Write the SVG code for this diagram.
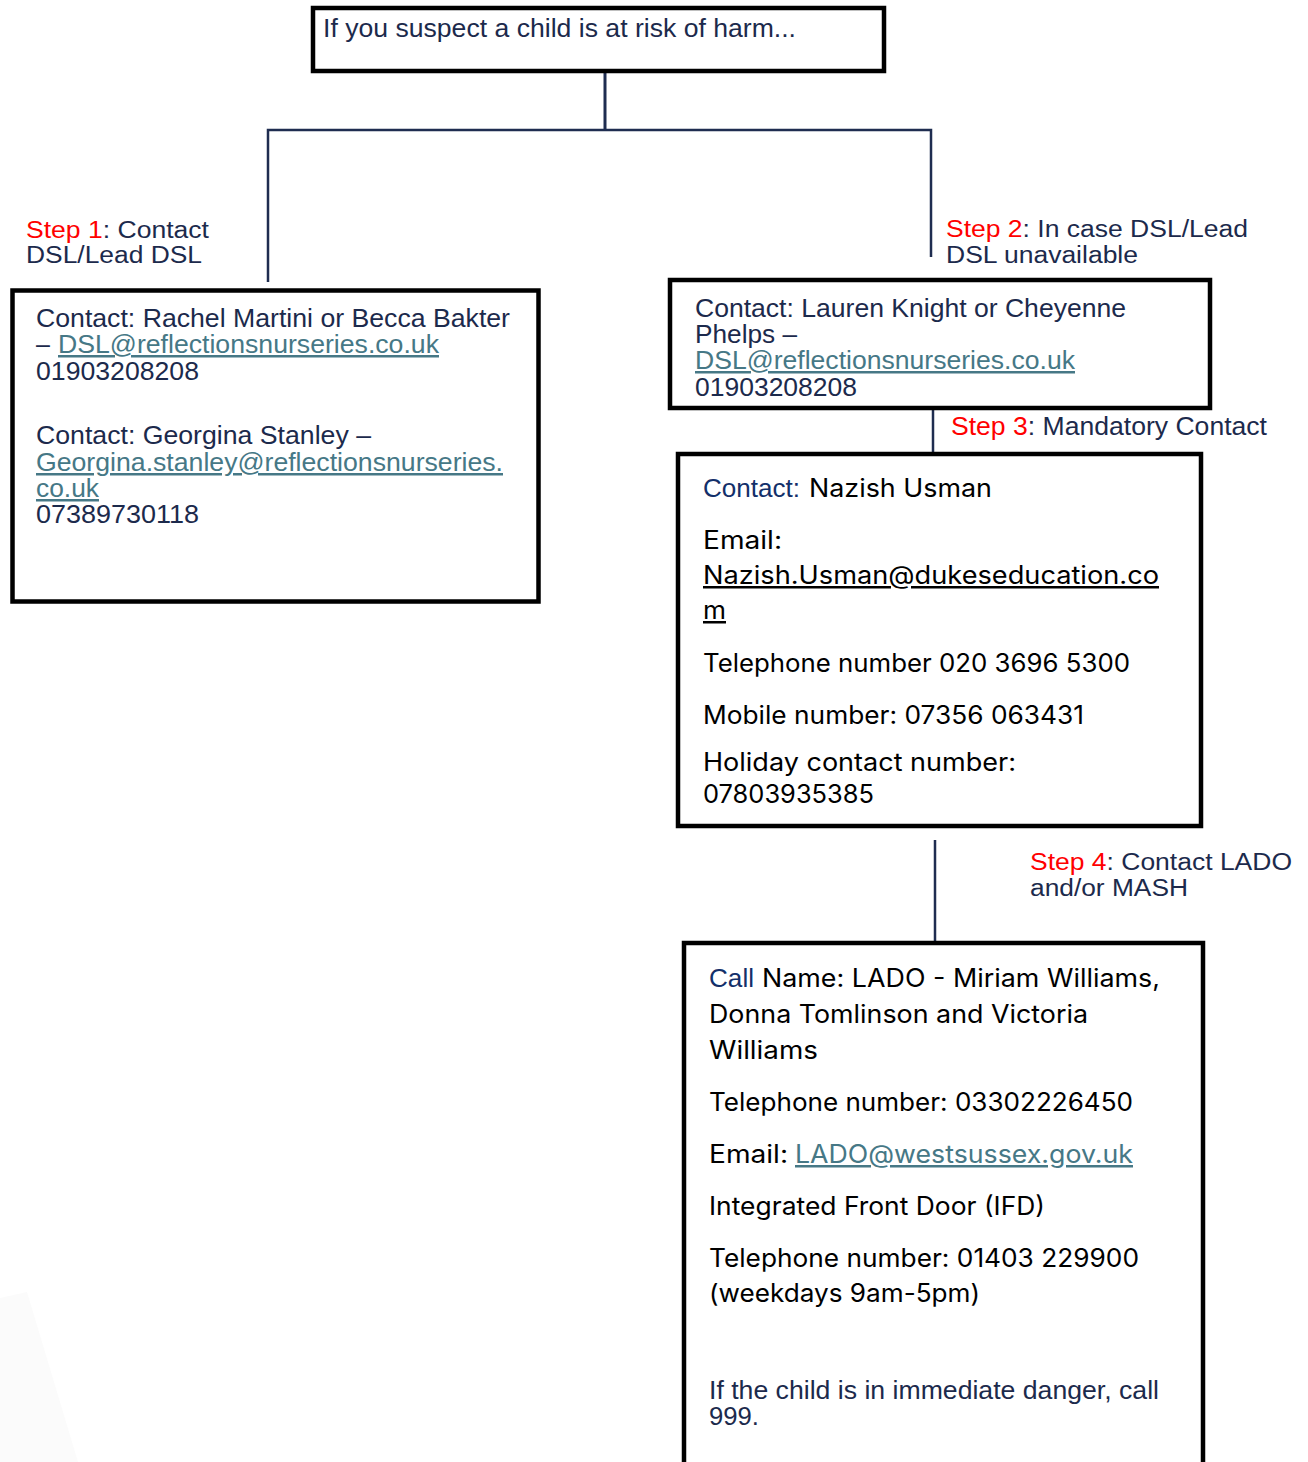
<svg xmlns="http://www.w3.org/2000/svg" width="1308" height="1462" viewBox="0 0 1308 1462">
<style>
.box{fill:#fff;stroke:#000;stroke-width:4.5}
.ln{fill:none;stroke:#1f2d50;stroke-width:2.5}
.a{font-family:"Liberation Sans",Arial,sans-serif;font-size:25px;fill:#1c2a4c}
.s{font-size:23.5px}
.b{font-family:Inter,"Noto Sans",sans-serif;font-size:25px;fill:#000}
.red{fill:#ff0000}
.lk{fill:#467886;text-decoration:underline}
.nv{fill:#13306a}
.u{text-decoration:underline}
</style>
<rect width="1308" height="1462" fill="#fff"/>
<polygon points="0,1298 27,1292 78,1462 0,1462" fill="#fbfbfb"/>
<g id="connectors">
<path class="ln" d="M605,73 V130" style="stroke-width:3"/>
<path class="ln" d="M268,282 V130 H931 V257"/>
<path class="ln" d="M933,410 V453"/>
<path class="ln" d="M935,840 V943 H917 V948"/>
</g>
<g id="start">
<rect class="box" x="313" y="8" width="571" height="63"/>
<text class="a" x="323" y="37" textLength="473" lengthAdjust="spacingAndGlyphs">If you suspect a child is at risk of harm...</text>
</g>
<g id="step1-label">
<text class="a s" x="26" y="238" textLength="183" lengthAdjust="spacingAndGlyphs"><tspan class="red">Step 1</tspan>: Contact</text>
<text class="a s" x="26" y="263" textLength="176" lengthAdjust="spacingAndGlyphs">DSL/Lead DSL</text>
</g>
<g id="step2-label">
<text class="a s" x="946" y="237" textLength="302" lengthAdjust="spacingAndGlyphs"><tspan class="red">Step 2</tspan>: In case DSL/Lead</text>
<text class="a s" x="946" y="263" textLength="192" lengthAdjust="spacingAndGlyphs">DSL unavailable</text>
</g>
<g id="step3-label">
<text class="a" x="951" y="435" textLength="316" lengthAdjust="spacingAndGlyphs"><tspan class="red">Step 3</tspan>: Mandatory Contact</text>
</g>
<g id="step4-label">
<text class="a s" x="1030" y="870" textLength="262" lengthAdjust="spacingAndGlyphs"><tspan class="red">Step 4</tspan>: Contact LADO</text>
<text class="a s" x="1030" y="896" textLength="158" lengthAdjust="spacingAndGlyphs">and/or MASH</text>
</g>
<g id="dsl-box">
<rect class="box" x="12.5" y="290.5" width="526" height="311"/>
<text class="a" x="36" y="327" textLength="474" lengthAdjust="spacingAndGlyphs">Contact: Rachel Martini or Becca Bakter</text>
<text class="a" x="36" y="353">–</text>
<text class="a lk" x="58" y="353" textLength="381" lengthAdjust="spacingAndGlyphs">DSL@reflectionsnurseries.co.uk</text>
<text class="a" x="36" y="380" textLength="163" lengthAdjust="spacingAndGlyphs">01903208208</text>
<text class="a" x="36" y="444" textLength="335" lengthAdjust="spacingAndGlyphs">Contact: Georgina Stanley –</text>
<text class="a lk" x="36" y="471" textLength="467" lengthAdjust="spacingAndGlyphs">Georgina.stanley@reflectionsnurseries.</text>
<text class="a lk" x="36" y="497" textLength="63" lengthAdjust="spacingAndGlyphs">co.uk</text>
<text class="a" x="36" y="523" textLength="163" lengthAdjust="spacingAndGlyphs">07389730118</text>
</g>
<g id="backup-box">
<rect class="box" x="670" y="280" width="540" height="128"/>
<text class="a" x="695" y="317" textLength="431" lengthAdjust="spacingAndGlyphs">Contact: Lauren Knight or Cheyenne</text>
<text class="a" x="695" y="343" textLength="102" lengthAdjust="spacingAndGlyphs">Phelps –</text>
<text class="a lk" x="695" y="369" textLength="380" lengthAdjust="spacingAndGlyphs">DSL@reflectionsnurseries.co.uk</text>
<text class="a" x="695" y="396" textLength="162" lengthAdjust="spacingAndGlyphs">01903208208</text>
</g>
<g id="mandatory-box">
<rect class="box" x="678" y="454" width="523" height="372"/>
<text class="a nv" x="703" y="497" textLength="97" lengthAdjust="spacingAndGlyphs">Contact:</text>
<text class="b" x="809" y="497" textLength="183" lengthAdjust="spacingAndGlyphs">Nazish Usman</text>
<text class="b" x="703" y="549" textLength="79" lengthAdjust="spacingAndGlyphs">Email:</text>
<text class="b u" x="703" y="584" textLength="456" lengthAdjust="spacingAndGlyphs">Nazish.Usman@dukeseducation.co</text>
<text class="b u" x="703" y="619" textLength="23" lengthAdjust="spacingAndGlyphs">m</text>
<text class="b" x="703" y="672" textLength="427" lengthAdjust="spacingAndGlyphs">Telephone number 020 3696 5300</text>
<text class="b" x="703" y="724" textLength="381" lengthAdjust="spacingAndGlyphs">Mobile number: 07356 063431</text>
<text class="b" x="703" y="771" textLength="313" lengthAdjust="spacingAndGlyphs">Holiday contact number:</text>
<text class="b" x="703" y="803" textLength="171" lengthAdjust="spacingAndGlyphs">07803935385</text>
</g>
<g id="lado-box">
<path d="M684,1470 V943 H1203 V1470" fill="#fff" stroke="#000" stroke-width="4.5"/>
<text class="a nv" x="709" y="987" textLength="45" lengthAdjust="spacingAndGlyphs">Call</text>
<text class="b" x="762" y="987" textLength="398" lengthAdjust="spacingAndGlyphs">Name: LADO - Miriam Williams,</text>
<text class="b" x="709" y="1023" textLength="379" lengthAdjust="spacingAndGlyphs">Donna Tomlinson and Victoria</text>
<text class="b" x="709" y="1059" textLength="109" lengthAdjust="spacingAndGlyphs">Williams</text>
<text class="b" x="709" y="1111" textLength="424" lengthAdjust="spacingAndGlyphs">Telephone number: 03302226450</text>
<text class="b" x="709" y="1163" textLength="79" lengthAdjust="spacingAndGlyphs">Email:</text>
<text class="b lk" x="795" y="1163" textLength="338" lengthAdjust="spacingAndGlyphs">LADO@westsussex.gov.uk</text>
<text class="b" x="709" y="1215" textLength="336" lengthAdjust="spacingAndGlyphs">Integrated Front Door (IFD)</text>
<text class="b" x="709" y="1267" textLength="430" lengthAdjust="spacingAndGlyphs">Telephone number: 01403 229900</text>
<text class="b" x="709" y="1302" textLength="271" lengthAdjust="spacingAndGlyphs">(weekdays 9am-5pm)</text>
<text class="a" x="709" y="1399" textLength="450" lengthAdjust="spacingAndGlyphs">If the child is in immediate danger, call</text>
<text class="a" x="709" y="1425" textLength="50" lengthAdjust="spacingAndGlyphs">999.</text>
</g>
</svg>
